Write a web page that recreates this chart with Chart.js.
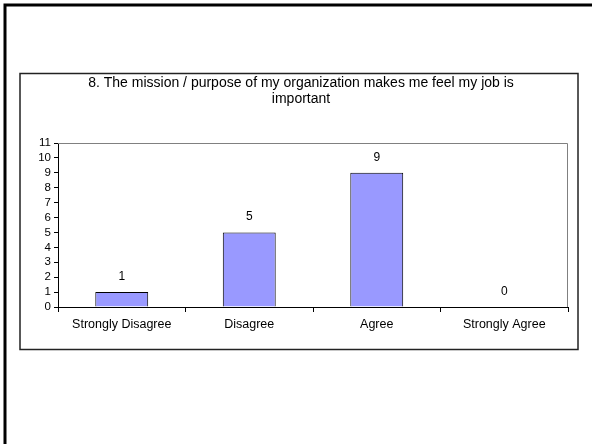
<!DOCTYPE html>
<html>
<head>
<meta charset="utf-8">
<style>
  html, body { margin: 0; padding: 0; background: #fff; }
  #wrap { position: relative; width: 592px; height: 444px; }
  canvas { display: block; }
</style>
<script src="https://cdn.jsdelivr.net/npm/chart.js@4"></script>
</head>
<body>
<div id="wrap"><canvas id="c" width="592" height="444"></canvas></div>
<script>
const categories = ['Strongly Disagree', 'Disagree', 'Agree', 'Strongly Agree'];
const responses = [1, 5, 9, 0];
const yTicks = [0, 1, 2, 3, 4, 5, 6, 7, 8, 9, 10, 11];
const titleLines = ['8. The mission / purpose of my organization makes me feel my job is', 'important'];

const FONT = '"Liberation Sans", Arial, sans-serif';
const BOX = { left: 20, top: 73.5, width: 558, height: 276 };

// Slide frame (top/left edges), the chart box, its centred title and value labels
const framePlugin = {
  id: 'frame',
  beforeDraw(chart) {
    const ctx = chart.ctx;
    ctx.save();
    ctx.fillStyle = '#fff';
    ctx.fillRect(0, 0, chart.width, chart.height);
    ctx.strokeStyle = '#000';
    ctx.lineWidth = 3;
    ctx.beginPath();
    ctx.moveTo(5, chart.height);
    ctx.lineTo(5, 5);
    ctx.lineTo(chart.width, 5);
    ctx.stroke();
    ctx.strokeStyle = '#222';
    ctx.lineWidth = 1.5;
    ctx.strokeRect(BOX.left, BOX.top, BOX.width, BOX.height);

    // title, centred in the chart box
    ctx.font = '14px ' + FONT;
    ctx.fillStyle = '#000';
    ctx.textAlign = 'center';
    ctx.textBaseline = 'middle';
    const cx = BOX.left + BOX.width / 2 + 2;
    titleLines.forEach((line, i) => ctx.fillText(line, cx, 83 + i * 16));
    ctx.restore();
  },
  beforeDatasetsDraw(chart) {
    // grey plot-area outline on top and right
    const a = chart.chartArea;
    const ctx = chart.ctx;
    ctx.save();
    ctx.strokeStyle = '#808080';
    ctx.lineWidth = 1;
    ctx.beginPath();
    ctx.moveTo(a.left, a.top + 0.5);
    ctx.lineTo(a.right - 0.5, a.top + 0.5);
    ctx.lineTo(a.right - 0.5, a.bottom);
    ctx.stroke();
    ctx.restore();
  },
  afterDatasetsDraw(chart) {
    // value labels above each bar
    const ctx = chart.ctx;
    const meta = chart.getDatasetMeta(0);
    ctx.save();
    ctx.font = '12px ' + FONT;
    ctx.fillStyle = '#000';
    ctx.textAlign = 'center';
    ctx.textBaseline = 'middle';
    meta.data.forEach((bar, i) => {
      ctx.fillText(String(responses[i]), bar.x, bar.y - 15.5);
    });
    ctx.restore();
  }
};

new Chart(document.getElementById('c'), {
  type: 'bar',
  data: {
    labels: categories,
    datasets: [{
      data: responses,
      backgroundColor: '#9999FF',
      borderColor: '#000',
      borderWidth: 1,
      borderSkipped: 'bottom',
      categoryPercentage: 1,
      barPercentage: 0.415
    }]
  },
  options: {
    responsive: false,
    animation: false,
    devicePixelRatio: 1,
    layout: { padding: { left: 18, right: 24, top: 143, bottom: 95 } },
    plugins: {
      legend: { display: false },
      tooltip: { enabled: false },
      title: { display: false }
    },
    scales: {
      x: {
        grid: {
          offset: true,
          drawOnChartArea: false,
          drawTicks: true,
          tickLength: 5,
          color: '#000'
        },
        border: { color: '#000', width: 1 },
        ticks: {
          color: '#000',
          font: { family: FONT, size: 12.5 },
          padding: 5,
          maxRotation: 0,
          autoSkip: false
        },
        afterFit(s) { s.height = 42; }
      },
      y: {
        min: 0,
        max: 11,
        afterBuildTicks(s) { s.ticks = yTicks.map(v => ({ value: v })); },
        grid: {
          drawOnChartArea: false,
          drawTicks: true,
          tickLength: 4,
          color: '#000'
        },
        border: { color: '#000', width: 1 },
        ticks: {
          color: '#000',
          font: { family: FONT, size: 11.5 },
          padding: 3,
          autoSkip: false
        },
        afterFit(s) { s.width = 40; }
      }
    }
  },
  plugins: [framePlugin]
});
</script>
</body>
</html>
